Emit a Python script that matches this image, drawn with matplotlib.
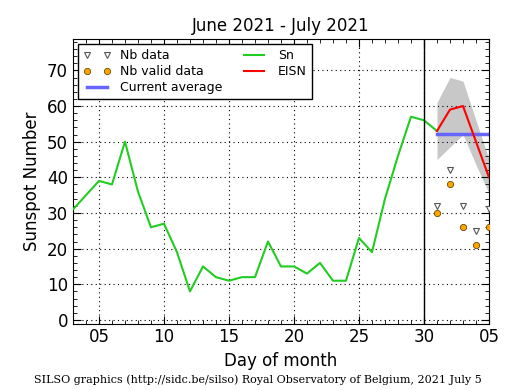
import matplotlib
matplotlib.use("Agg")
import matplotlib.pyplot as plt
from matplotlib.ticker import MultipleLocator, FixedLocator

# daily sunspot number (day of month; 31..35 = July 1..5)
sn_days = list(range(3, 32))
sn_values = [31, 35, 39, 38, 50, 36, 26, 27, 19, 8, 15, 12, 11, 12, 12, 22,
             15, 15, 13, 16, 11, 11, 23, 19, 34, 46, 57, 56, 53]

eisn_days = [31, 32, 33, 34, 35]
eisn_values = [53, 59, 60, 50, 40]
eisn_low = [45, 48.5, 52, 43.5, 35.5]
eisn_high = [61, 68, 67, 56, 45]

nb_data = [32, 42, 32, 25, 31]
nb_valid = [30, 38, 26, 21, 26]

current_avg = 52.2

xtick_pos = [5, 10, 15, 20, 25, 30, 35]
xtick_labels = ["05", "10", "15", "20", "25", "30", "05"]

fig = plt.figure(figsize=(5.15, 3.9), dpi=100)
ax = fig.add_axes([0.1417, 0.1705, 0.8078, 0.7295])

ax.fill_between(eisn_days, eisn_low, eisn_high, color="#c8c8c8", lw=0, zorder=1)
ax.plot(eisn_days, nb_data, "v", ms=4, mfc="white", mec="#555555", mew=0.8,
        label="Nb data", zorder=4)
ax.plot(eisn_days, nb_valid, "o", ms=4.5, mfc="#ffa500", mec="#6a4a00", mew=0.6,
        label="Nb valid data", zorder=4)
ax.plot([31, 35], [current_avg, current_avg], color="#6666ff", lw=2.5,
        label="Current average", zorder=2)
ax.plot(sn_days, sn_values, color="#22cc22", lw=1.5, label="Sn", zorder=3)
ax.plot(eisn_days, eisn_values, color="red", lw=1.5, label="EISN", zorder=3)
ax.axvline(30, color="black", lw=1, zorder=3)

ax.set_xlim(3, 35)
ax.set_ylim(-1, 78.8)
ax.xaxis.set_major_locator(FixedLocator(xtick_pos))
ax.set_xticklabels(xtick_labels)
ax.xaxis.set_minor_locator(MultipleLocator(1))
ax.yaxis.set_major_locator(MultipleLocator(10))
ax.yaxis.set_minor_locator(MultipleLocator(2))
ax.tick_params(which="both", direction="in", top=True, right=True, labelsize=12)
ax.tick_params(which="major", length=6)
ax.tick_params(which="minor", length=3)
ax.grid(True, which="major", linestyle=(0, (1, 3)), color="black", lw=0.8)

ax.set_title("June 2021 - July 2021", fontsize=12)
ax.set_xlabel("Day of month", fontsize=12)
ax.set_ylabel("Sunspot Number", fontsize=12)

leg = ax.legend(loc="upper left", ncol=2, numpoints=2, fontsize=9,
                fancybox=False, framealpha=1, edgecolor="black",
                borderaxespad=0.4, handlelength=2.2, columnspacing=1.4,
                labelspacing=0.25, borderpad=0.4)
leg.get_frame().set_linewidth(1)
leg.set_zorder(5)

fig.text(0.5, 0.018, "SILSO graphics (http://sidc.be/silso) Royal Observatory of Belgium, 2021 July 5",
         ha="center", fontsize=8, family="DejaVu Serif")

fig.savefig("out.png", dpi=100)
